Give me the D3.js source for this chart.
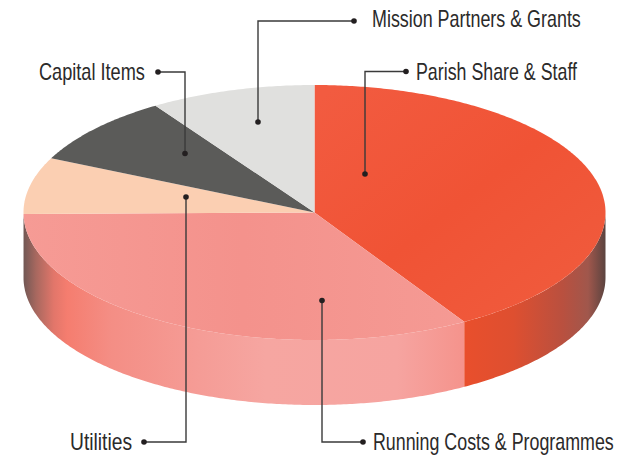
<!DOCTYPE html>
<html>
<head>
<meta charset="utf-8">
<script src="https://cdn.jsdelivr.net/npm/d3@7"></script>
<style>
  html, body { margin: 0; padding: 0; background: #fff; }
  text { font-family: "Liberation Sans Narrow", "Liberation Sans", sans-serif; fill: #2b2a2a; }
</style>
</head>
<body>
<div id="chart-area"></div>
<script>
const categories = ["Parish Share & Staff", "Running Costs & Programmes", "Utilities", "Capital Items", "Mission Partners & Grants"];
const shares = [41.4, 33.4, 7.2, 8.8, 9.2];
const topColors = ["#f0553a", "#f59690", "#fbcfb2", "#5b5b59", "#e0e0de"];

const svgWidth = 633;
const svgHeight = 458;
const cx = 314.5;
const cy = 212.5;
const rx = 291;
const ry = 127.5;
const depth = 65;

const svg = d3.select("#chart-area")
              .append("svg")
              .attr("width", svgWidth)
              .attr("height", svgHeight)
              .style("display", "block");

const defs = svg.append("defs");

function gradient(id, stops, x1, x2, y1 = 0, y2 = 0) {
  const g = defs.append("linearGradient")
                .attr("id", id)
                .attr("gradientUnits", "userSpaceOnUse")
                .attr("x1", x1).attr("x2", x2)
                .attr("y1", y1).attr("y2", y2);
  stops.forEach(s => g.append("stop").attr("offset", s[0]).attr("stop-color", s[1]));
}

// side walls, shading runs left to right
gradient("wall-red", [[0, "#e94f2c"], [0.35, "#de4f30"], [0.7, "#b9503f"], [0.88, "#a0574c"], [1, "#5d4440"]], 464, 605);
gradient("wall-pink", [[0, "#6f5754"], [0.03, "#a8685f"], [0.07, "#e2766a"], [0.1, "#f57d6f"], [0.2, "#f48e85"], [0.4, "#f59c96"], [0.55, "#f6a6a1"], [0.85, "#f6a4a0"], [1, "#f5938c"]], 23, 464);

// faint sheen on the top faces
gradient("top-red", [[0, "#f25b40"], [0.55, "#f05335"], [1, "#f05a3c"]], 330, 520, 90, 330);
gradient("top-pink", [[0, "#f69b95"], [0.5, "#f4928c"], [1, "#f59a94"]], 23, 464);

const pie = d3.pie().sort(null).value(d => d);
const slices = pie(shares);

const wallFills = ["url(#wall-red)", "url(#wall-pink)"];
const topFills = ["url(#top-red)", "url(#top-pink)", topColors[2], topColors[3], topColors[4]];

// wall outline for a slice, only the part on the near side of the disc
const rimX = a => cx + rx * Math.sin(a);
const rimY = a => cy - ry * Math.cos(a);
const rimLine = d3.line().x(d => d.x).y(d => d.y);

function wallPath(s) {
  const a0 = Math.max(s.startAngle, Math.PI / 2);
  const a1 = Math.min(s.endAngle, Math.PI * 1.5);
  if (a1 <= a0) return null;
  const angles = d3.range(a0, a1, 0.01).concat(a1);
  const top = angles.map(a => ({ x: rimX(a), y: rimY(a) }));
  const bottom = angles.slice().reverse().map(a => ({ x: rimX(a), y: rimY(a) + depth }));
  return rimLine(top.concat(bottom)) + "Z";
}

svg.append("g")
   .selectAll("path")
   .data(slices.slice(0, 2))
   .enter()
   .append("path")
     .attr("d", wallPath)
     .attr("fill", (d, i) => wallFills[i]);

const topFace = svg.append("g");

slices.forEach((s, i) => {
  // polygon of screen points so gradients stay in page coordinates
  const angles = d3.range(s.startAngle, s.endAngle, 0.01).concat(s.endAngle);
  const pts = [{ x: cx, y: cy }].concat(angles.map(a => {
    const [px, py] = d3.pointRadial(a, rx);
    return { x: cx + px, y: cy + py * ry / rx };
  }));
  topFace.append("path")
         .attr("d", rimLine(pts) + "Z")
         .attr("fill", topFills[i]);
});

// leader layout: label anchor, elbow and dot inside the slice
const leaderPoints = [
  [[406, 71.5], [365, 71.5], [365, 174]],
  [[363, 442], [322, 442], [322, 300.5]],
  [[144, 442], [186, 442], [186, 197]],
  [[158, 72], [185, 72], [185, 153.5]],
  [[354, 21], [258, 21], [258, 122]]
];
const labelBoxes = [
  { x: 416, y: 79.5, w: 161 },
  { x: 373, y: 450, w: 241 },
  { x: 70, y: 450, w: 62 },
  { x: 39, y: 79.5, w: 106 },
  { x: 372, y: 26.5, w: 209 }
];

const notes = svg.append("g");

leaderPoints.forEach((pts, i) => {
  notes.append("path")
       .attr("d", d3.line()(pts))
       .attr("fill", "none")
       .attr("stroke", "#3a3a3a")
       .attr("stroke-width", 1.4);
  notes.selectAll(null)
       .data([pts[0], pts[2]])
       .enter()
       .append("circle")
         .attr("cx", d => d[0])
         .attr("cy", d => d[1])
         .attr("r", 2.8)
         .attr("fill", "#231f20");
  const label = notes.append("text")
                     .attr("font-size", 24)
                     .text(categories[i]);
  // squeeze each label to the reference width, the face is wider than the original
  const sx = labelBoxes[i].w / label.node().getComputedTextLength();
  label.attr("transform", `translate(${labelBoxes[i].x}, ${labelBoxes[i].y}) scale(${sx}, 1)`);
});
</script>
</body>
</html>
